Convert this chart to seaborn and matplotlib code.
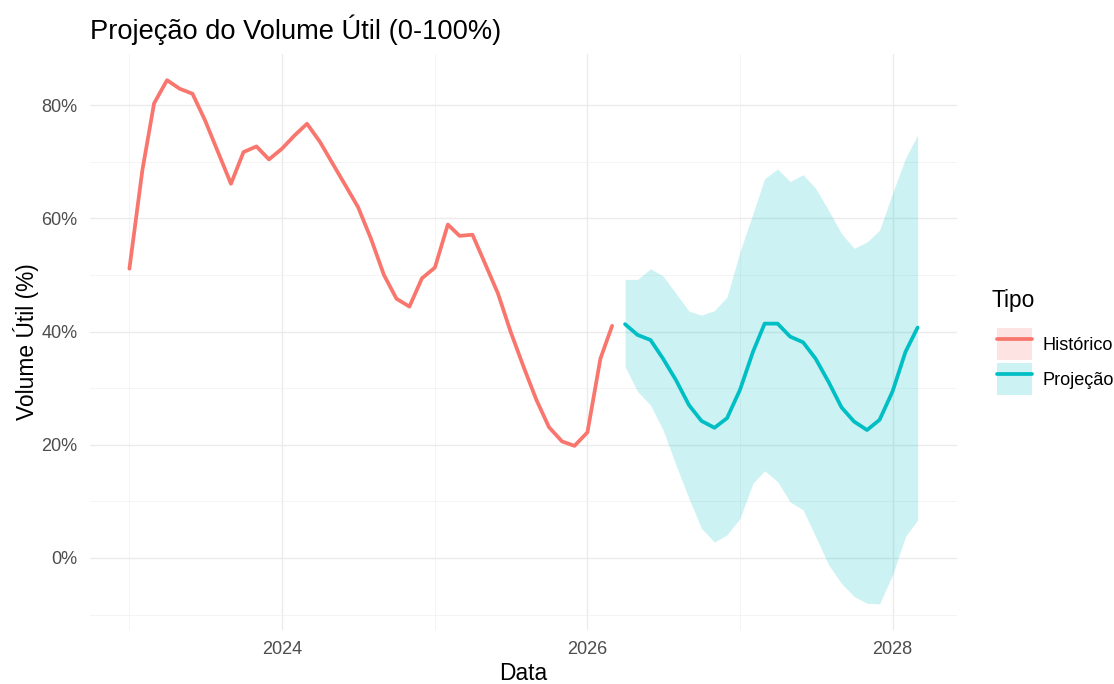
import seaborn as sns
import pandas as pd
import matplotlib.pyplot as plt
import matplotlib.dates as mdates
from matplotlib.patches import Patch
from matplotlib.lines import Line2D
from matplotlib.ticker import FuncFormatter, MultipleLocator

# historico mensal, jan/2023 - mar/2026
hist_dates = pd.date_range("2023-01-01", "2026-03-01", freq="MS")
hist_vals = [51.1, 68.5, 80.3, 84.4, 82.9, 82.0, 77.3, 71.7, 66.1, 71.7, 72.7, 70.4,
             72.3, 74.7, 76.7, 73.5, 69.7, 65.8, 62.0, 56.4, 50.0, 45.8, 44.4, 49.4,
             51.3, 58.9, 56.9, 57.1, 52.0, 46.7, 40.0, 33.8, 27.9, 23.1, 20.6, 19.8,
             22.2, 35.2, 41.0]

# projecao, abr/2026 - mar/2028
proj_dates = pd.date_range("2026-04-01", "2028-03-01", freq="MS")
proj_vals = [41.3, 39.4, 38.5, 35.2, 31.4, 27.0, 24.2, 23.0, 24.7,
             29.7, 36.4, 41.4, 41.4, 39.1, 38.1, 35.2, 31.1, 26.6, 24.1, 22.6, 24.4,
             29.4, 36.4, 40.7]
proj_upper = [49.2, 49.2, 51.1, 49.8, 46.7, 43.6, 42.9, 43.7, 46.1,
              54.1, 60.8, 67.0, 68.7, 66.5, 67.7, 65.3, 61.4, 57.3, 54.7, 55.8, 57.9,
              64.4, 70.6, 74.7]
proj_lower = [33.8, 29.4, 27.0, 22.6, 16.4, 10.5, 5.2, 2.8, 4.1,
              7.0, 13.2, 15.4, 13.5, 9.9, 8.5, 3.8, -1.2, -4.5, -6.8, -8.0, -8.1,
              -3.0, 3.8, 6.7]

tipos = ["Histórico", "Projeção"]
cores = {"Histórico": "#F8766D", "Projeção": "#00BFC4"}

df = pd.concat([
    pd.DataFrame({"Data": hist_dates, "Volume": hist_vals, "Tipo": tipos[0]}),
    pd.DataFrame({"Data": proj_dates, "Volume": proj_vals, "Tipo": tipos[1]}),
], ignore_index=True)

sns.set_theme(style="white")
plt.rcParams["font.family"] = ["Liberation Sans", "DejaVu Sans"]
plt.rcParams["text.color"] = "black"

fig = plt.figure(figsize=(11.14, 6.84), dpi=100)
ax = fig.add_axes([90 / 1114, 54 / 684, (957 - 90) / 1114, (630 - 54) / 684])

ax.fill_between(proj_dates, proj_lower, proj_upper, color=cores["Projeção"],
                alpha=0.2, linewidth=0, zorder=2)
sns.lineplot(data=df, x="Data", y="Volume", hue="Tipo", palette=cores,
             linewidth=2.7, legend=False, ax=ax, zorder=3)

ax.margins(x=0.05, y=0.05)

ax.xaxis.set_major_locator(mdates.YearLocator(2))
ax.xaxis.set_minor_locator(mdates.YearLocator(1))
ax.xaxis.set_major_formatter(mdates.DateFormatter("%Y"))
ax.yaxis.set_major_locator(MultipleLocator(20))
ax.yaxis.set_minor_locator(MultipleLocator(10))
ax.yaxis.set_major_formatter(FuncFormatter(lambda v, p: f"{v:.0f}%"))

ax.grid(which="major", color="#EBEBEB", linewidth=1.0, zorder=0)
ax.grid(which="minor", color="#F2F2F2", linewidth=0.6, zorder=0)
ax.set_axisbelow(True)
for s in ax.spines.values():
    s.set_visible(False)
ax.tick_params(which="both", length=0)
ax.tick_params(axis="x", labelsize=13.1, labelcolor="#4D4D4D", pad=8)
ax.tick_params(axis="y", labelsize=13.1, labelcolor="#4D4D4D", pad=9)

ax.set_title("Projeção do Volume Útil (0-100%)", loc="left", fontsize=19.6,
             pad=11, color="black")
ax.set_xlabel("Data", fontsize=16.4, labelpad=3, color="black")
ax.set_ylabel("Volume Útil (%)", fontsize=16.4, labelpad=2, color="black")

handles = [(Patch(facecolor=cores[t], alpha=0.2, linewidth=0),
            Line2D([], [], color=cores[t], linewidth=2.7)) for t in tipos]
fig.text(992 / 1114, 1 - 300 / 684, "Tipo", fontsize=16.4, va="center",
         ha="left", color="black")
leg = fig.legend(handles, tipos, loc="upper left",
                 bbox_to_anchor=(988 / 1114, 1 - 319 / 684),
                 fontsize=13.1, frameon=False, handlelength=1.9,
                 handleheight=2.3, labelspacing=0.2, handletextpad=0.6,
                 borderpad=0)

fig.savefig("out.png", dpi=100)
